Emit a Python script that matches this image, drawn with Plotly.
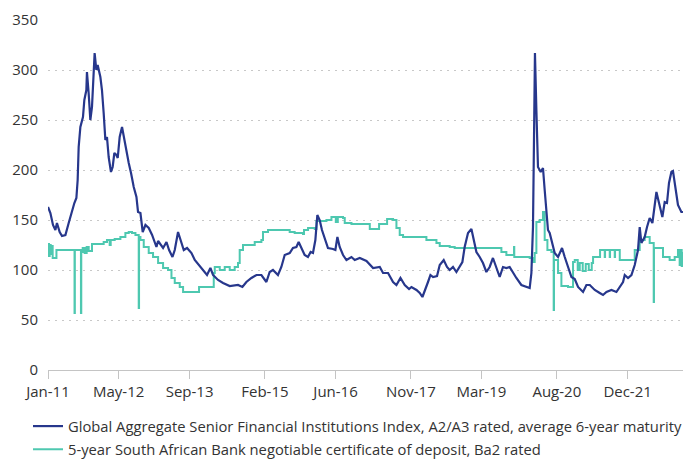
import pandas as pd
import plotly.graph_objects as go

# ---- data (time as decimal year, values in bp) ----
blue_t = [2011.000, 2011.045, 2011.094, 2011.139, 2011.169, 2011.220, 2011.264, 2011.328, 2011.390, 2011.452,
          2011.497, 2011.535, 2011.559, 2011.578, 2011.610, 2011.659, 2011.685, 2011.723, 2011.734, 2011.766,
          2011.798, 2011.829, 2011.861, 2011.879, 2011.911, 2011.936, 2011.987, 2012.017, 2012.049, 2012.081,
          2012.111, 2012.143, 2012.186, 2012.218, 2012.250, 2012.288, 2012.313, 2012.350, 2012.394, 2012.426,
          2012.476, 2012.520, 2012.563, 2012.614, 2012.665, 2012.695, 2012.740, 2012.783, 2012.834, 2012.896,
          2012.959, 2012.977, 2013.041, 2013.072, 2013.136, 2013.166, 2013.230, 2013.279, 2013.343, 2013.386,
          2013.448, 2013.512, 2013.556, 2013.618, 2013.701, 2013.763, 2013.844, 2013.919, 2013.994, 2014.058,
          2014.107, 2014.202, 2014.296, 2014.422, 2014.516, 2014.578, 2014.661, 2014.736, 2014.831, 2014.925,
          2015.019, 2015.113, 2015.175, 2015.237, 2015.331, 2015.395, 2015.458, 2015.552, 2015.614, 2015.678,
          2015.721, 2015.772, 2015.834, 2015.896, 2015.947, 2015.991, 2016.036, 2016.073, 2016.117, 2016.160,
          2016.211, 2016.273, 2016.367, 2016.412, 2016.450, 2016.493, 2016.556, 2016.620, 2016.714, 2016.776,
          2016.870, 2016.996, 2017.121, 2017.247, 2017.309, 2017.403, 2017.497, 2017.561, 2017.637, 2017.718,
          2017.799, 2017.844, 2017.938, 2018.000, 2018.051, 2018.094, 2018.156, 2018.202, 2018.251, 2018.326,
          2018.377, 2018.452, 2018.514, 2018.565, 2018.627, 2018.691, 2018.753, 2018.804, 2018.847, 2018.891,
          2018.910, 2018.974, 2019.023, 2019.068, 2019.130, 2019.192, 2019.256, 2019.318, 2019.380, 2019.444,
          2019.507, 2019.569, 2019.633, 2019.695, 2019.757, 2019.821, 2019.915, 2020.010, 2020.072, 2020.104,
          2020.134, 2020.153, 2020.171, 2020.198, 2020.228, 2020.279, 2020.322, 2020.354, 2020.386, 2020.416,
          2020.448, 2020.492, 2020.542, 2020.605, 2020.680, 2020.731, 2020.793, 2020.857, 2020.919, 2020.981,
          2021.075, 2021.139, 2021.202, 2021.296, 2021.390, 2021.452, 2021.516, 2021.610, 2021.704, 2021.767,
          2021.829, 2021.861, 2021.923, 2021.987, 2022.049, 2022.111, 2022.143, 2022.175, 2022.237, 2022.281,
          2022.331, 2022.382, 2022.425, 2022.458, 2022.507, 2022.570, 2022.614, 2022.657, 2022.695, 2022.740,
          2022.770, 2022.821, 2022.864, 2022.928, 2022.958]
blue_v = [163, 157, 145, 140, 147, 138, 134, 135, 147, 160,
          167, 172, 190, 223, 243, 253, 270, 280, 298, 277,
          250, 263, 303, 317, 300, 305, 293, 280, 257, 230,
          233, 213, 198, 203, 217, 215, 212, 233, 243, 233,
          220, 207, 197, 183, 173, 158, 157, 138, 145, 142,
          135, 132, 123, 129, 125, 122, 128, 120, 113, 120,
          138, 128, 120, 122, 117, 110, 105, 100, 95, 102,
          95, 90, 87, 84, 85, 85, 83, 88, 92, 95,
          95, 88, 98, 100, 95, 103, 115, 117, 122, 123,
          128, 122, 115, 113, 118, 117, 130, 155, 150, 140,
          132, 122, 121, 120, 133, 123, 115, 110, 113, 110,
          112, 109, 102, 103, 97, 97, 88, 85, 92, 85,
          81, 83, 80, 77, 73, 80, 88, 95, 93, 94,
          105, 110, 103, 100, 103, 98, 103, 108, 123, 135,
          137, 141, 130, 118, 113, 107, 98, 103, 112, 103,
          93, 103, 102, 103, 97, 92, 85, 83, 82, 97,
          143, 230, 317, 260, 203, 198, 202, 180, 157, 140,
          137, 127, 117, 113, 122, 113, 103, 93, 91, 83,
          78, 85, 85, 80, 77, 75, 78, 80, 78, 83,
          88, 95, 92, 95, 105, 120, 143, 127, 133, 143,
          152, 147, 165, 178, 167, 153, 168, 167, 187, 198,
          199, 183, 165, 158, 158]

green_t = [2011.000, 2011.008, 2011.019, 2011.032, 2011.051, 2011.070, 2011.088, 2011.107, 2011.159, 2011.497,
           2011.500, 2011.506, 2011.616, 2011.621, 2011.627, 2011.654, 2011.691, 2011.729, 2011.767, 2011.829,
           2012.049, 2012.111, 2012.162, 2012.181, 2012.256, 2012.363, 2012.457, 2012.520, 2012.582, 2012.646,
           2012.705, 2012.708, 2012.714, 2012.740, 2012.802, 2012.896, 2012.977, 2013.009, 2013.072, 2013.166,
           2013.260, 2013.324, 2013.386, 2013.480, 2013.543, 2013.838, 2013.844, 2014.115, 2014.121, 2014.140,
           2014.234, 2014.328, 2014.422, 2014.516, 2014.578, 2014.610, 2014.672, 2014.893, 2015.019, 2015.049,
           2015.144, 2015.520, 2015.552, 2015.646, 2015.803, 2015.822, 2015.898, 2016.024, 2016.056, 2016.244,
           2016.338, 2016.420, 2016.458, 2016.556, 2016.588, 2016.714, 2016.996, 2017.059, 2017.185, 2017.234,
           2017.341, 2017.385, 2017.498, 2017.561, 2017.623, 2017.686, 2018.063, 2018.126, 2018.315, 2018.377,
           2018.565, 2018.659, 2019.475, 2019.539, 2019.633, 2019.771, 2019.777, 2019.782, 2020.072, 2020.134,
           2020.166, 2020.198, 2020.260, 2020.322, 2020.354, 2020.405, 2020.480, 2020.520, 2020.523, 2020.529,
           2020.605, 2020.668, 2020.793, 2020.857, 2020.887, 2020.919, 2020.975, 2021.013, 2021.069, 2021.126,
           2021.183, 2021.239, 2021.264, 2021.390, 2021.396, 2021.484, 2021.490, 2021.578, 2021.584, 2021.672,
           2021.678, 2021.767, 2022.012, 2022.049, 2022.143, 2022.237, 2022.331, 2022.403, 2022.407, 2022.412,
           2022.458, 2022.582, 2022.707, 2022.802, 2022.864, 2022.896, 2022.915, 2022.934, 2022.958]
green_v = [120, 126, 114, 125, 116, 124, 112, 112, 120, 120,
           57, 120, 120, 57, 118, 122, 117, 123, 119, 126,
           128, 130, 125, 130, 131, 133, 137, 138, 137, 135,
           135, 62, 133, 130, 123, 117, 113, 113, 107, 102,
           100, 92, 87, 83, 78, 78, 83, 83, 97, 103,
           100, 103, 100, 103, 107, 120, 125, 128, 130, 138,
           140, 140, 138, 137, 136, 140, 142, 141, 149, 150,
           153, 148, 153, 152, 147, 146, 146, 141, 141, 146,
           146, 151, 150, 142, 135, 133, 133, 130, 127, 124,
           123, 122, 122, 118, 115, 115, 123, 113, 112, 108,
           117, 148, 150, 158, 130, 120, 118, 118, 60, 110,
           97, 84, 83, 83, 108, 110, 100, 107, 99, 106,
           100, 107, 113, 113, 120, 113, 120, 113, 120, 113,
           120, 110, 110, 120, 130, 133, 127, 127, 68, 122,
           122, 113, 110, 113, 120, 105, 120, 104, 118]

blue_name = "Global Aggregate Senior Financial Institutions Index, A2/A3 rated, average 6-year maturity"
green_name = "5-year South African Bank negotiable certificate of deposit, Ba2 rated"

tick_dates = ["2011-01-01", "2012-05-01", "2013-09-01", "2015-02-01", "2016-06-01",
              "2017-11-01", "2019-03-01", "2020-08-01", "2021-12-01"]
tick_labels = ["Jan-11", "May-12", "Sep-13", "Feb-15", "Jun-16", "Nov-17", "Mar-19", "Aug-20", "Dec-21"]
y_ticks = [0, 50, 100, 150, 200, 250, 300, 350]
x_start, x_end = "2011-01-01", "2022-12-17"


def to_dates(ts):
    out = []
    for t in ts:
        y = int(t)
        start = pd.Timestamp(year=y, month=1, day=1)
        end = pd.Timestamp(year=y + 1, month=1, day=1)
        d = start + pd.Timedelta(hours=round((end - start).total_seconds() / 3600 * (t - y)))
        out.append(d.strftime("%Y-%m-%d %H:%M"))
    return out


BLUE = "#27378C"
GREEN = "#4EC8B0"
FONT = "Open Sans"
TXT = "#333333"

blue_x = to_dates(blue_t)
green_x = to_dates(green_t)

fig = go.Figure()
fig.add_trace(go.Scatter(x=green_x, y=green_v, mode="lines", name=green_name,
                         line=dict(color=GREEN, width=2, shape="hv"),
                         legendgroup="g", legendrank=2))
fig.add_trace(go.Scatter(x=blue_x, y=blue_v, mode="lines", name=blue_name,
                         line=dict(color=BLUE, width=2.2),
                         legendgroup="b", legendrank=1))

H = 470  # a little taller than the 461px window so the legend box is never scrolled/clipped
fig.update_layout(
    width=685, height=H,
    margin=dict(l=48, r=2, t=20, b=H - 370, autoexpand=False),
    paper_bgcolor="white", plot_bgcolor="white",
    font=dict(family=FONT, size=15, color=TXT),
    showlegend=True,
    legend=dict(orientation="v", xref="paper", yref="container",
                x=-0.0315, xanchor="left", y=1 - 410 / H, yanchor="top",
                traceorder="grouped", tracegroupgap=1, itemwidth=30,
                font=dict(family=FONT, size=14.75, color=TXT), bgcolor="rgba(0,0,0,0)"),
    xaxis=dict(type="date", range=[x_start, x_end], autorange=False,
               tickvals=tick_dates, ticktext=tick_labels,
               showgrid=False, showline=True, linecolor="#c4c4c4", linewidth=1,
               ticks="outside", ticklen=8, tickcolor="#c4c4c4", tickwidth=1,
               tickfont=dict(family=FONT, size=15, color=TXT), zeroline=False, automargin=False),
    yaxis=dict(range=[0, 350], autorange=False, tickvals=y_ticks, showgrid=True, gridcolor="#c8c8c8",
               griddash="1.5px,5.5px", gridwidth=1, zeroline=False, showline=False,
               ticks="", ticklabelstandoff=9, automargin=False,
               tickfont=dict(family=FONT, size=15, color=TXT)),
)

fig.write_html("out.html", config={"displayModeBar": False},
               post_script="document.body.style.margin='0px';document.body.style.overflow='hidden';")
